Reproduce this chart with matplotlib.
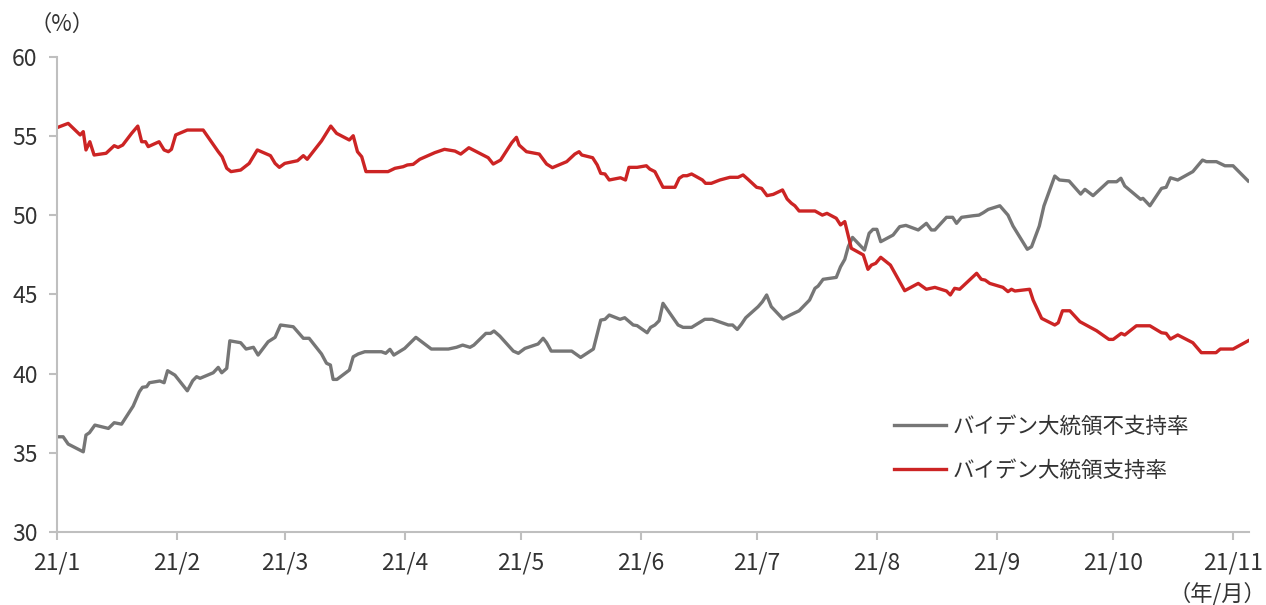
import numpy as np
import pandas as pd
import matplotlib
matplotlib.use("Agg")
import matplotlib.pyplot as plt
import matplotlib.dates as mdates

plt.rcParams["font.family"] = ["Noto Sans CJK JP", "DejaVu Sans"]

start = pd.Timestamp("2021-01-01")

# days since 2021-01-01
disapprove_days = [0, 1.6, 2.9, 6.8, 7.5, 8.4, 9.8, 13.3, 14.8, 16.7, 19.7, 21.3, 22.1, 23.2, 23.9,
                   26.6, 27.7, 28.6, 30.5, 33.7, 35.1, 36.1, 37, 40.4, 41.7, 42.6, 43.9, 44.7, 47.5,
                   48.9, 50.8, 52, 54.6, 56.4, 57.8, 61.1, 63.7, 65.2, 68.4, 69.7, 70.7, 71.4, 72.4,
                   75.6, 76.6, 77.9, 79.6, 83.9, 85, 86.1, 87.1, 89.9, 92.8, 94.3, 96.8, 101.2, 103.3,
                   104.9, 106.8, 107.8, 110.9, 112.1, 113, 114.5, 118, 119.3, 121, 124.4, 125.7, 126.6,
                   127.8, 133.1, 135.4, 138.7, 140.6, 141.7, 142.8, 145.6, 146.8, 149, 150, 152.6,
                   153.5, 154.6, 155.7, 156.7, 160.6, 161.9, 164.1, 167.5, 169.4, 173.6, 174.7, 175.9,
                   177, 178.1, 181.3, 182.4, 183.5, 184.7, 187.7, 189.6, 191.9, 194.6, 196, 196.8,
                   198.1, 201.5, 202.6, 203.7, 204.6, 205.7, 208.8, 210, 211, 212, 213, 216.2, 217.9,
                   219.5, 222.7, 224.8, 226.1, 227, 230, 231.6, 232.6, 233.9, 236.9, 238.4, 239.5,
                   240.8, 243.8, 245.9, 247.2, 250.9, 252, 254, 255.2, 258, 259.2, 261.7, 264.7,
                   265.8, 267.9, 271.8, 274, 275.1, 276.1, 280.2, 280.8, 282.6, 285.6, 286.8, 287.9,
                   289.8, 293.7, 296.2, 297.2, 299.8, 302, 304.1, 308]
disapprove = [36.0, 36.0, 35.54, 35.05, 36.11, 36.26, 36.74, 36.53, 36.89, 36.8, 37.94, 38.85, 39.13,
              39.17, 39.42, 39.53, 39.42, 40.18, 39.9, 38.91, 39.55, 39.8, 39.7, 40.05, 40.39, 40.05,
              40.33, 42.07, 41.95, 41.55, 41.66, 41.17, 42.01, 42.29, 43.07, 42.96, 42.23, 42.23,
              41.24, 40.65, 40.54, 39.63, 39.63, 40.22, 41.06, 41.24, 41.38, 41.38, 41.28, 41.53,
              41.17, 41.59, 42.29, 42.01, 41.55, 41.55, 41.66, 41.8, 41.66, 41.8, 42.54, 42.54,
              42.69, 42.37, 41.42, 41.28, 41.59, 41.87, 42.23, 41.95, 41.42, 41.42, 41.02, 41.55,
              43.38, 43.43, 43.70, 43.43, 43.53, 43.07, 43.03, 42.58, 42.92, 43.07, 43.34, 44.44,
              43.07, 42.92, 42.92, 43.43, 43.43, 43.07, 43.07, 42.79, 43.13, 43.53, 44.23, 44.54,
              44.97, 44.23, 43.45, 43.7, 43.97, 44.65, 45.39, 45.53, 45.96, 46.08, 46.75, 47.22,
              48.02, 48.61, 47.81, 48.87, 49.12, 49.12, 48.34, 48.76, 49.29, 49.37, 49.08, 49.5,
              49.08, 49.08, 49.88, 49.88, 49.5, 49.88, 49.98, 50.02, 50.17, 50.38, 50.61, 50.02,
              49.33, 47.86, 48.02, 49.33, 50.6, 52.49, 52.24, 52.18, 51.35, 51.65, 51.25, 52.13,
              52.13, 52.35, 51.86, 51.02, 51.08, 50.61, 51.71, 51.78, 52.38, 52.24, 52.77, 53.5,
              53.4, 53.4, 53.14, 53.14, 52.18]

approve_days = [0, 2.9, 6, 6.8, 7.5, 8.5, 9.6, 12.7, 14.8, 15.8, 17, 19.3, 20.9, 21.9, 22.9, 23.6,
                26.4, 27.7, 28.8, 29.6, 30.7, 33.7, 37.8, 41.7, 42.7, 43.9, 45, 47.5, 49.7, 51.8,
                55.2, 56.4, 57.5, 58.9, 62.2, 63.7, 64.7, 68.4, 70.8, 72.3, 75.6, 76.6, 77.7, 78.8,
                79.9, 85.6, 87.4, 89.5, 90.6, 92.1, 93.8, 97.7, 100.2, 102.9, 104.4, 106.5, 111.5,
                112.8, 114.7, 117.6, 118.8, 119.5, 121.4, 124.7, 126.6, 128.1, 131.8, 133.9, 135,
                135.7, 138.5, 139.7, 140.6, 141.7, 142.8, 145.7, 147, 147.9, 150, 152.4, 153.3,
                154.6, 156.7, 159.8, 160.9, 161.9, 162.9, 164.1, 166.9, 167.7, 169.2, 171.4, 174,
                176.1, 177.4, 178.7, 180.9, 182.2, 183.6, 185.2, 187.6, 188.8, 189.9, 190.8, 191.9,
                196, 197.9, 199.1, 201.5, 202.6, 203.7, 205.4, 208.5, 209.7, 210.6, 211.7, 213,
                215.5, 219.2, 222.7, 224.8, 227, 230, 231, 232.1, 233.4, 237.8, 239, 240, 241.2,
                244.6, 245.9, 246.8, 247.7, 251.5, 252.4, 254.6, 258, 258.9, 260, 261.9, 264.5,
                268.8, 272, 273.1, 275.2, 276.1, 279.1, 282.6, 285.6, 286.8, 287.9, 289.8, 293.7,
                295.9, 299.7, 300.8, 304.1, 308]
approve = [55.55, 55.82, 55.09, 55.3, 54.14, 54.66, 53.82, 53.93, 54.41, 54.3, 54.45, 55.19, 55.65,
           54.66, 54.66, 54.35, 54.66, 54.14, 54.03, 54.18, 55.09, 55.4, 55.4, 54.03, 53.71, 52.98,
           52.77, 52.87, 53.29, 54.14, 53.78, 53.29, 53.04, 53.29, 53.46, 53.78, 53.55, 54.71,
           55.65, 55.19, 54.77, 55.04, 54.03, 53.71, 52.77, 52.77, 52.98, 53.08, 53.19, 53.23,
           53.55, 53.97, 54.18, 54.07, 53.88, 54.28, 53.65, 53.25, 53.5, 54.6, 54.94, 54.45, 54.03,
           53.88, 53.25, 53.02, 53.4, 53.88, 54.03, 53.82, 53.65, 53.19, 52.66, 52.62, 52.24,
           52.38, 52.24, 53.04, 53.04, 53.14, 52.93, 52.77, 51.78, 51.78, 52.35, 52.51, 52.51,
           52.62, 52.24, 52.03, 52.03, 52.24, 52.41, 52.41, 52.56, 52.28, 51.78, 51.71, 51.25,
           51.33, 51.61, 51.04, 50.77, 50.61, 50.28, 50.28, 50.02, 50.13, 49.82, 49.4, 49.61,
           47.92, 47.5, 46.59, 46.86, 46.97, 47.35, 46.86, 45.24, 45.7, 45.33, 45.45, 45.22,
           44.97, 45.39, 45.33, 46.34, 45.96, 45.91, 45.7, 45.45, 45.18, 45.33, 45.22, 45.33,
           44.65, 43.49, 43.07, 43.21, 43.97, 43.97, 43.28, 42.71, 42.16, 42.16, 42.54, 42.44,
           43.02, 43.02, 42.58, 42.54, 42.18, 42.44, 41.95, 41.32, 41.32, 41.55, 41.55, 42.07]

month_starts = pd.date_range("2021-01-01", "2021-11-01", freq="MS")
month_labels = ["21/1", "21/2", "21/3", "21/4", "21/5", "21/6", "21/7", "21/8", "21/9", "21/10", "21/11"]

gray = "#767676"
red = "#CC2424"
txt = "#333333"
axis_col = "#BFBFBF"

x_dis = start + pd.to_timedelta(disapprove_days, unit="D")
x_app = start + pd.to_timedelta(approve_days, unit="D")

fig = plt.figure(figsize=(12.66, 6.05), dpi=100)
ax = fig.add_axes([0.045, 0.1212, 0.9415, 0.7841])

ax.plot(x_dis, disapprove, color=gray, lw=2.4, label="バイデン大統領不支持率", solid_joinstyle="round")
ax.plot(x_app, approve, color=red, lw=2.4, label="バイデン大統領支持率", solid_joinstyle="round")

ax.set_ylim(30, 60)
ax.set_yticks(range(30, 61, 5))
ax.set_xlim(start, start + pd.Timedelta(days=308.2))
ax.set_xticks(month_starts)
ax.set_xticklabels(month_labels)

for s in ["top", "right"]:
    ax.spines[s].set_visible(False)
for s in ["left", "bottom"]:
    ax.spines[s].set_color(axis_col)
    ax.spines[s].set_linewidth(1.5)
ax.tick_params(axis="both", colors=axis_col, width=1.5, length=6, labelsize=16.5,
               labelcolor=txt)
ax.tick_params(axis="x", pad=8)
ax.tick_params(axis="y", pad=8)

leg = ax.legend(loc="center left", bbox_to_anchor=(0.693, 0.175), frameon=False,
                fontsize=15.5, handlelength=2.45, handletextpad=0.3, labelspacing=1.0,
                borderpad=0, labelcolor=txt)

fig.text(62 / 1266, 1 - 24 / 605, "（%）", ha="center", va="center", fontsize=16, color=txt)
fig.text(1217 / 1266, 1 - 594 / 605, "（年/月）", ha="center", va="center", fontsize=16, color=txt)

fig.savefig("out.png", dpi=100)
